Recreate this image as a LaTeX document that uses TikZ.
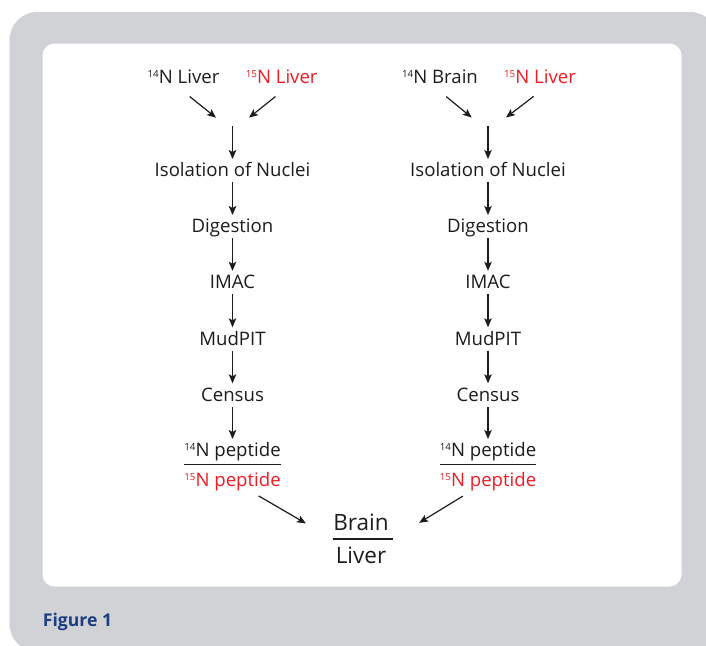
\documentclass[tikz,border=0pt]{standalone}
\usepackage{fontspec}
\setmainfont{Open Sans}
\usetikzlibrary{arrows.meta}
\definecolor{panelgrey}{RGB}{208,210,213}
\definecolor{inkgrey}{RGB}{30,27,28}
\definecolor{heavyred}{RGB}{237,28,36}
\definecolor{figblue}{RGB}{28,62,128}
\newcommand{\isotope}[1]{\raisebox{5.8pt}{\fontsize{9.8}{9.8}\selectfont #1}}

\begin{document}
\begin{tikzpicture}[x=1pt,y=-1pt,
    every node/.style={font=\fontsize{18.6}{21}\selectfont, text=inkgrey},
    stage/.style={anchor=base, inner xsep=0pt, inner ysep=5.5pt, text height=12pt, text depth=0pt},
    source/.style={stage, inner ysep=8pt},
    heavy/.style={text=heavyred},
    flow/.style={draw=inkgrey, line width=1.2pt, -{Stealth[length=9pt,width=7.5pt,inset=2pt]}},
    bar/.style={draw=inkgrey, line width=1.1pt}]
        \useasboundingbox (0,0) rectangle (706,645);
        \clip (0,0) rectangle (706,645);
        \fill[panelgrey, rounded corners=28pt] (9.5,12) rectangle (718,652);
        \fill[white, rounded corners=12pt] (42.5,43.5) rectangle (681.5,586.5);

        \node[source] (lA14) at (183.5,83.3) {\isotope{14}N Liver};
        \node[source, heavy] (lA15) at (281.7,83.3) {\isotope{15}N Liver};
        \coordinate (tipA14) at (216,117.7);
        \coordinate (tipA15) at (249,117.7);
        \coordinate (mergeA) at (232.5,126);
        \node[stage] (isoA) at (232.5,176.7) {Isolation of Nuclei};
        \node[stage] (digA) at (232.5,232.7) {Digestion};
        \node[stage] (imacA) at (232.5,288.5) {IMAC};
        \node[stage] (mudA) at (232.5,345) {MudPIT};
        \node[stage] (cenA) at (232.5,401) {Census};
        \node[stage] (pA14) at (232.5,456.7) {\isotope{14}N peptide};
        \node[stage, heavy] (pA15) at (232.5,486.7) {\isotope{15}N peptide};

        \draw[flow, shorten <=8pt] (lA14.south) to (tipA14);
        \draw[flow, shorten <=8pt] (lA15.south) to (tipA15);
        \draw[flow] (mergeA) to (isoA);
        \draw[flow] (isoA) to (digA);
        \draw[flow] (digA) to (imacA);
        \draw[flow] (imacA) to (mudA);
        \draw[flow] (mudA) to (cenA);
        \draw[flow] (cenA) to (pA14);
        \draw[bar] ([yshift=-2.5pt]pA14.south west) to ([yshift=-2.5pt]pA14.south east);

        \node[source] (lB14) at (440,83.3) {\isotope{14}N Brain};
        \node[source, heavy] (lB15) at (540,83.3) {\isotope{15}N Liver};
        \coordinate (tipB14) at (471.7,117.5);
        \coordinate (tipB15) at (506,117.5);
        \coordinate (mergeB) at (488,126);
        \node[stage] (isoB) at (488,176.7) {Isolation of Nuclei};
        \node[stage] (digB) at (488,232.7) {Digestion};
        \node[stage] (imacB) at (488,288.5) {IMAC};
        \node[stage] (mudB) at (488,345) {MudPIT};
        \node[stage] (cenB) at (488,401) {Census};
        \node[stage] (pB14) at (488,456.7) {\isotope{14}N peptide};
        \node[stage, heavy] (pB15) at (488,486.7) {\isotope{15}N peptide};

        \draw[flow, shorten <=8pt] (lB14.south) to (tipB14);
        \draw[flow, shorten <=8pt] (lB15.south) to (tipB15);
        \draw[flow] (mergeB) to (isoB);
        \draw[flow] (isoB) to (digB);
        \draw[flow] (digB) to (imacB);
        \draw[flow] (imacB) to (mudB);
        \draw[flow] (mudB) to (cenB);
        \draw[flow] (cenB) to (pB14);
        \draw[bar] ([yshift=-2.5pt]pB14.south west) to ([yshift=-2.5pt]pB14.south east);

        \node[stage, font=\fontsize{22.5}{24}\selectfont] (brain) at (361,530.7) {Brain};
        \node[stage, font=\fontsize{22.5}{24}\selectfont] (liver) at (361,563.3) {Liver};
        \coordinate (barL) at (332.7,539);
        \coordinate (barR) at (392.7,539);
        \draw[bar] (barL) to (barR);
        \draw[flow, shorten <=7pt, shorten >=31pt] (pA15) to (barL);
        \draw[flow, shorten <=7pt, shorten >=31pt] (pB15) to (barR);

        \node[anchor=base west, inner sep=0pt, font=\bfseries\fontsize{17.6}{20}\selectfont, text=figblue] (figlabel) at (42.7,626) {Figure 1};
      \end{tikzpicture}
\end{document}
